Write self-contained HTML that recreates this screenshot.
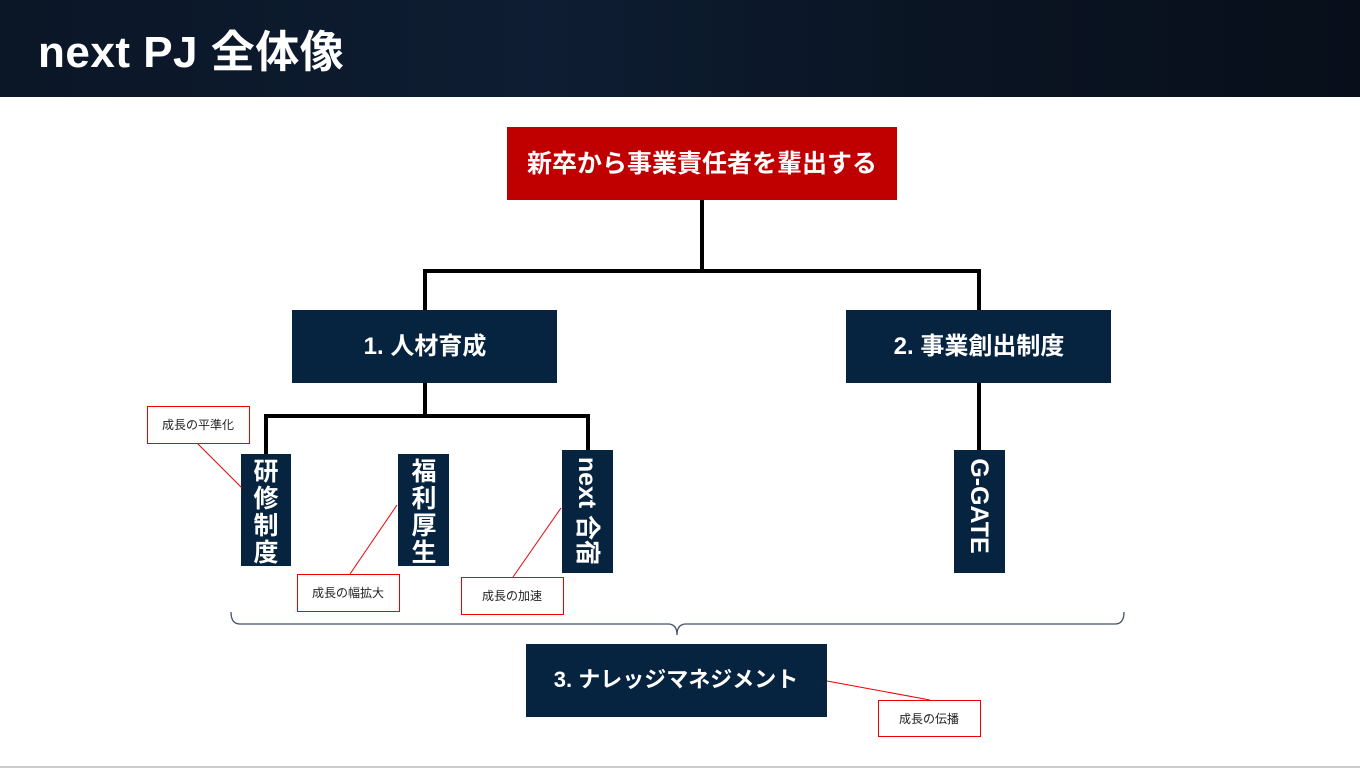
<!DOCTYPE html>
<html><head><meta charset="utf-8"><style>
body{margin:0;width:1360px;height:771px;overflow:hidden;background:#fff;font-family:"Liberation Sans","Noto Sans CJK JP",sans-serif}
.hdr{position:absolute;left:0;top:0;width:1360px;height:97px;background:linear-gradient(90deg,#0b1626,#0e1d33 40%,#0a1422 70%,#080f1b)}
.hdr h1{position:absolute;left:38px;top:16px;margin:0;font-size:44px;color:#fff;font-weight:bold;letter-spacing:0.5px}
svg{position:absolute;left:0;top:0}
</style></head><body>
<div class="hdr"><h1>next PJ 全体像</h1></div>
<svg width="1360" height="771" font-family="Liberation Sans, Noto Sans CJK JP, sans-serif">
<g stroke="#000" stroke-width="4" fill="none">
<path d="M702 200V271M425 310V271H979V310"/>
<path d="M425 383V416M266 455V416H588V450M979 383V450"/>
</g>
<rect x="507" y="127" width="390" height="73" fill="#c00000"/>
<text x="702" y="172" fill="#fff" font-size="25" font-weight="bold" text-anchor="middle">新卒から事業責任者を輩出する</text>
<g fill="#06233f">
<rect x="292" y="310" width="265" height="73"/>
<rect x="846" y="310" width="265" height="73"/>
<rect x="241" y="454" width="50" height="112"/>
<rect x="398" y="454" width="51" height="112"/>
<rect x="562" y="450" width="51" height="123"/>
<rect x="954" y="450" width="51" height="123"/>
<rect x="526" y="644" width="301" height="73"/>
</g>
<g fill="#fff" font-weight="bold" text-anchor="middle">
<text x="425" y="354" font-size="24">1. 人材育成</text>
<text x="979" y="354" font-size="24">2. 事業創出制度</text>
<text x="676" y="687" font-size="22">3. ナレッジマネジメント</text>
</g>
<g fill="#fff" font-size="25" font-weight="bold" text-anchor="middle">
<text x="266" y="480">研</text><text x="266" y="507">修</text><text x="266" y="534">制</text><text x="266" y="561">度</text>
<text x="424" y="480">福</text><text x="424" y="507">利</text><text x="424" y="534">厚</text><text x="424" y="561">生</text>
<text transform="translate(579,511) rotate(90)" x="0" y="0" text-anchor="middle">next 合宿</text>
<text transform="translate(971,506) rotate(90)" x="0" y="0" text-anchor="middle">G-GATE</text>
</g>
<g stroke="#e00" stroke-width="1" fill="#fff">
<line x1="197" y1="443" x2="242" y2="488"/>
<line x1="350" y1="574" x2="397" y2="505"/>
<line x1="513" y1="577" x2="561" y2="508"/>
<line x1="827" y1="681" x2="930" y2="700"/>
<rect x="147.5" y="406.5" width="102" height="37"/>
<rect x="297.5" y="574.5" width="102" height="37"/>
<rect x="461.5" y="577.5" width="102" height="37"/>
<rect x="878.5" y="700.5" width="102" height="36"/>
</g>
<g font-size="12" fill="#222" text-anchor="middle">
<text x="198" y="429">成長の平準化</text>
<text x="348" y="597">成長の幅拡大</text>
<text x="512" y="600">成長の加速</text>
<text x="929" y="723">成長の伝播</text>
</g>
<path d="M231 612Q231 624 240 624H668Q677 624 677 635Q677 624 686 624H1115Q1124 624 1124 612" stroke="#44546a" stroke-width="1.3" fill="none"/>
<line x1="0" y1="767" x2="1360" y2="767" stroke="#ccc" stroke-width="2"/>
</svg>
</body></html>
